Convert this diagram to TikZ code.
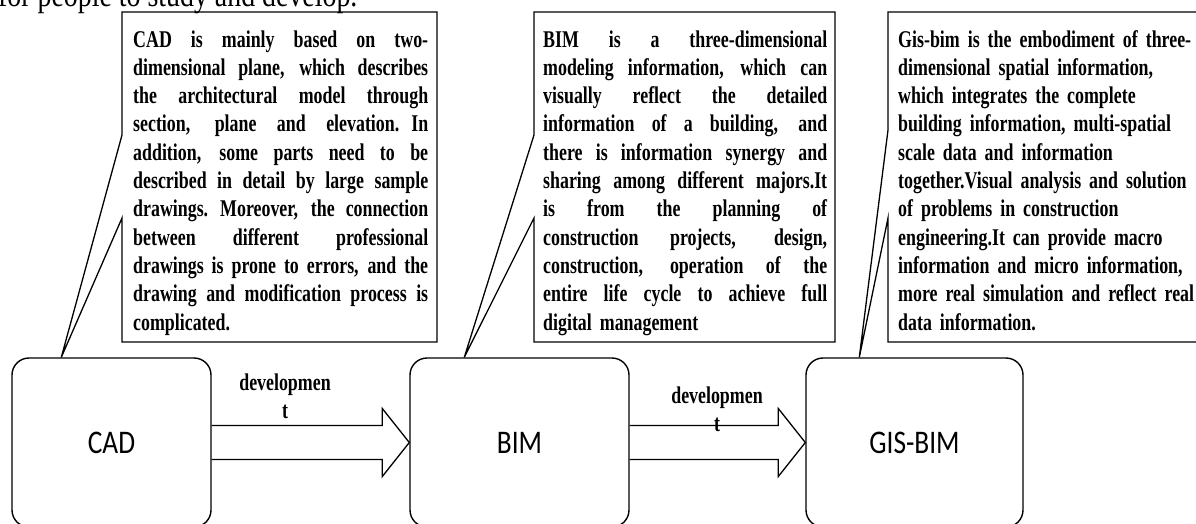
\documentclass[tikz,border=0pt]{standalone}
\usepackage{fontspec}
\setmainfont{Liberation Serif}
\newfontfamily\calloutfont[FakeStretch=0.745]{Liberation Serif}
\newfontfamily\labelfont[FakeStretch=0.83]{Carlito}
\newfontfamily\topfont[FakeStretch=0.82]{Liberation Serif}
\usetikzlibrary{calc}
\newcommand{\cjust}[2][295pt]{\leavevmode\hbox to #1{\spaceskip=\fontdimen2\font plus 1fil\relax #2}}
\tikzset{
  bigbox/.style={draw, line width=1.4pt, rounded corners=17pt, inner sep=0pt,
    minimum height=169pt, font=\labelfont\fontsize{33}{38}\selectfont},
  callout/.style={draw, line width=1.3pt, line join=miter},
  callouttext/.style={anchor=base west, inner sep=0pt, align=left,
    font=\calloutfont\bfseries\fontsize{24}{28.3}\selectfont},
  devlabel/.style={anchor=base, inner sep=0pt, text width=120pt, align=center,
    font=\calloutfont\bfseries\fontsize{24}{28}\selectfont},
  blockarrow/.style={draw, line width=1.3pt, line join=miter},
}
\begin{document}
\begin{tikzpicture}[x=1pt,y=-1pt]
\useasboundingbox (0,0) rectangle (1196,523);
\clip (0,0) rectangle (1196,523);

% cut-off line of text at the top
\node[anchor=base west, inner sep=0pt, font=\topfont\fontsize{34}{40}\selectfont] (toptext) at (-2,6) {for people to study and develop.};

% main boxes
\node[bigbox, minimum width=199pt] (cad) at (111.5,442.5) {CAD};
\node[bigbox, minimum width=219pt] (bim) at (519.5,442.5) {BIM};
\node[bigbox, minimum width=217pt] (gis) at (914.5,442.5) {GIS-BIM};

% tail tips
\coordinate (t1) at ([xshift=50pt]cad.north west);
\coordinate (t2) at ([xshift=55pt]bim.north west);
\coordinate (t3) at ([xshift=54pt]gis.north west);

% callouts
\draw[callout] (122,12) -- (437,12) -- (437,342) -- (122,342) -- (122,218) -- (t1) -- (122,135) -- cycle;
\draw[callout] (534,12) -- (835,12) -- (835,342) -- (534,342) -- (534,218) -- (t2) -- (534,135) -- cycle;
\draw[callout] (1200,12) -- (888,12) -- (888,130) -- (t3) -- (888,218) -- (888,342) -- (1200,342);

\node[callouttext, text width=295pt] (cadtext) at (133,47) {%
\cjust{CAD is mainly based on two-}\\
\cjust{dimensional plane, which describes}\\
\cjust{the architectural model through}\\
\cjust{section, plane and elevation. In}\\
\cjust{addition, some parts need to be}\\
\cjust{described in detail by large sample}\\
\cjust{drawings. Moreover, the connection}\\
\cjust{between different professional}\\
\cjust{drawings is prone to errors, and the}\\
\cjust{drawing and modification process is}\\
complicated.};

\node[callouttext, text width=284pt] (bimtext) at (543,47) {%
\cjust[284pt]{BIM is a three-dimensional}\\
\cjust[284pt]{modeling information, which can}\\
\cjust[284pt]{visually reflect the detailed}\\
\cjust[284pt]{information of a building, and}\\
\cjust[284pt]{there is information synergy and}\\
\cjust[284pt]{sharing among different majors.It}\\
\cjust[284pt]{is from the planning of}\\
\cjust[284pt]{construction projects, design,}\\
\cjust[284pt]{construction, operation of the}\\
\cjust[284pt]{entire life cycle to achieve full}\\
digital management};

\node[callouttext, text width=340pt] (gistext) at (898,47) {%
\mbox{Gis-bim is the embodiment of three-}\\
\mbox{dimensional spatial information,}\\
\mbox{which integrates the complete}\\
\mbox{building information, multi-spatial}\\
\mbox{scale data and information}\\
\mbox{together.Visual analysis and solution}\\
\mbox{of problems in construction}\\
\mbox{engineering.It can provide macro}\\
\mbox{information and micro information,}\\
\mbox{more real simulation and reflect real}\\
\mbox{data information.}};

% block arrows
\draw[blockarrow] ($(cad.east)+(0,-17)$) -- ($(bim.west)+(-27,-17)$) -- ($(bim.west)+(-27,-34)$)
  -- (bim.west) -- ($(bim.west)+(-27,34)$) -- ($(bim.west)+(-27,17)$) -- ($(cad.east)+(0,17)$);
\draw[blockarrow] ($(bim.east)+(0,-17)$) -- ($(gis.west)+(-27,-17)$) -- ($(gis.west)+(-27,-34)$)
  -- (gis.west) -- ($(gis.west)+(-27,34)$) -- ($(gis.west)+(-27,17)$) -- ($(bim.east)+(0,17)$);

\node[devlabel] (dev1) at (285,390) {developmen\\t};
\node[devlabel] (dev2) at (717,403) {developmen\\t};
\end{tikzpicture}
\end{document}
